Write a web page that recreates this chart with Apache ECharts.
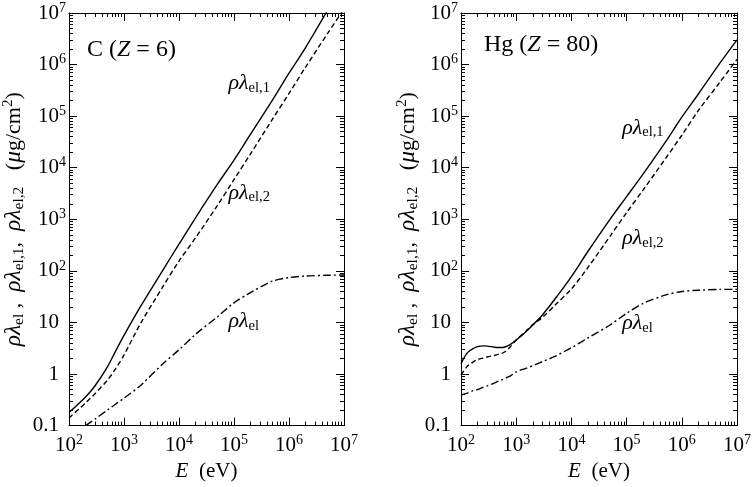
<!DOCTYPE html>
<html>
<head>
<meta charset="utf-8">
<script src="https://cdn.jsdelivr.net/npm/echarts@6.0.0/dist/echarts.min.js"></script>
<style>
  html, body { margin: 0; padding: 0; background: #fff; }
  #chart { width: 754px; height: 487px; }
</style>
</head>
<body>
<div id="chart"></div>
<script>
// ---- data (E in eV, rho*lambda in ug/cm^2) ----
// carbon panel
var energyC = [100, 200, 300, 500, 700, 1e3, 2e3, 5e3, 1e4, 2e4, 5e4, 1e5, 2e5, 5e5, 1e6, 2e6, 5e6, 1e7];
var lamC1  = [0.18, 0.36, 0.60, 1.38, 2.75, 5.6, 20.4, 100, 330, 1070, 4790, 1.41e4, 4.47e4, 2.04e5, 6.8e5, 2.14e6, 1.12e7, null];
var lamC2  = [0.141, 0.275, 0.42, 0.76, 1.26, 2.34, 9.55, 47.9, 155, 437, 1860, 5890, 1.86e4, 8.71e4, 2.75e5, 8.91e5, 3.98e6, 1.2e7];
var lamCel = [null, 0.1, 0.135, 0.20, 0.26, 0.34, 0.60, 1.55, 2.95, 5.89, 12.9, 24.0, 38.0, 63.1, 74.1, 79.4, 82.2, 83.2];

// mercury panel
var energyHg = [100, 130, 170, 200, 250, 300, 400, 500, 600, 700, 800, 1000, 1500, 2000, 3000, 5000,
                1e4, 2e4, 5e4, 1e5, 2e5, 5e5, 1e6, 2e6, 5e6, 1e7];
var lamHg1  = [1.58, 2.57, 3.16, 3.39, 3.51, 3.47, 3.31, 3.27, 3.31, 3.51, 3.80, 4.57, 6.61, 8.91, 14.1, 28.2,
               77.6, 240, 1000, 2754, 7586, 30900, 95500, 2.69e5, 1.10e6, 3.02e6];
var lamHg2  = [0.955, 1.41, 1.74, 1.91, 2.04, 2.14, 2.29, 2.45, 2.63, 2.95, 3.47, 4.57, 6.76, 9.12, 12.6, 21.4,
               44.7, 117, 468, 1349, 3715, 14790, 42660, 1.29e5, 4.68e5, 1.26e6];
var lamHgel = [0.389, 0.427, 0.479, 0.501, 0.550, 0.589, 0.668, 0.741, 0.80, 0.87, 0.93, 1.10, 1.29, 1.45, 1.74, 2.19,
               3.24, 5.01, 8.91, 15.1, 23.4, 33.9, 39.8, 42.2, 43.7, 43.7];

// axis decades (exponents of ten) and the minor multipliers
var xDecades = [2, 3, 4, 5, 6, 7];
var yDecades = [-1, 0, 1, 2, 3, 4, 5, 6, 7];
var minorSteps = [2, 3, 4, 5, 6, 7, 8, 9];
var yPlainLabels = { '-1': '0.1', '0': '1', '1': '10' };

var FONT = 'Liberation Serif';

function minorOf(decades) {
  var out = [];
  for (var i = 0; i < decades.length - 1; i++) {
    minorSteps.forEach(function (k) { out.push(decades[i] + Math.log10(k)); });
  }
  return out;
}
var xMinor = minorOf(xDecades);
var yMinor = minorOf(yDecades);

var rich = {
  r:   { fontFamily: FONT, fontSize: 21, color: '#000' },
  i:   { fontFamily: FONT, fontSize: 21, fontStyle: 'italic', color: '#000' },
  n:   { fontFamily: FONT, fontSize: 21, color: '#000', padding: [0, 7, 0, 0] },
  sup: { fontFamily: FONT, fontSize: 14, color: '#000', padding: [0, 0, 10, 0] },
  g:   { fontFamily: FONT, fontSize: 22, fontStyle: 'italic', color: '#000' },
  sub: { fontFamily: FONT, fontSize: 14.5, color: '#000', padding: [9, 0, 0, 0] }
};
// slightly larger set for the rotated y-axis name
var nameRich = {
  r:   { fontFamily: FONT, fontSize: 22, color: '#000' },
  g:   { fontFamily: FONT, fontSize: 23.5, fontStyle: 'italic', color: '#000' },
  sup: { fontFamily: FONT, fontSize: 15, color: '#000', padding: [0, 0, 11, 0] },
  sub: { fontFamily: FONT, fontSize: 15.5, color: '#000', padding: [10, 0, 0, 0] }
};
var titleRich = {
  r: { fontFamily: FONT, fontSize: 24, fontWeight: 'normal', color: '#000' },
  i: { fontFamily: FONT, fontSize: 24, fontWeight: 'normal', fontStyle: 'italic', color: '#000' }
};

function pairs(xs, ys) {
  var out = [];
  xs.forEach(function (e, i) {
    if (ys[i] != null) out.push([Math.log10(e), Math.log10(ys[i])]);
  });
  return out;
}

function xAxisSet(gi) {
  function ax(pos, ticks, len, main, labels) {
    return {
      type: 'value', gridIndex: gi, position: pos, min: 2, max: 7,
      axisLine: { show: main, onZero: false, lineStyle: { color: '#000', width: 1 } },
      axisTick: { show: true, inside: true, length: len, customValues: ticks,
                  lineStyle: { color: '#000', width: 1 } },
      axisLabel: labels ? {
        show: true, customValues: xDecades, margin: 8, rich: rich,
        formatter: function (v) { return '{r|10}{sup|' + Math.round(v) + '}'; }
      } : { show: false },
      splitLine: { show: false },
      name: labels ? '{i|E}{r|  (eV)}' : '',
      nameLocation: 'middle', nameGap: 35,
      nameTextStyle: { rich: rich }
    };
  }
  return [
    ax('bottom', xDecades, 8, true, true),
    ax('bottom', xMinor, 4, false, false),
    ax('top', xDecades, 8, true, false),
    ax('top', xMinor, 4, false, false)
  ];
}

var yName = '{g|ρλ}{sub|el}{r| ,  }{g|ρλ}{sub|el,1}{r|,  }{g|ρλ}{sub|el,2}{r|   (}{g|μ}{r|g/cm}{sup|2}{r|)}';

function yAxisSet(gi, gap) {
  function ax(pos, ticks, len, main, labels) {
    return {
      type: 'value', gridIndex: gi, position: pos, min: -1, max: 7,
      axisLine: { show: main, onZero: false, lineStyle: { color: '#000', width: 1 } },
      axisTick: { show: true, inside: true, length: len, customValues: ticks,
                  lineStyle: { color: '#000', width: 1 } },
      axisLabel: labels ? {
        show: true, customValues: yDecades, margin: 3, rich: rich,
        formatter: function (v) {
          var e = Math.round(v);
          if (yPlainLabels[e] !== undefined) return '{n|' + yPlainLabels[e] + '}';
          return '{r|10}{sup|' + e + '}';
        }
      } : { show: false },
      splitLine: { show: false },
      name: labels ? yName : '',
      nameLocation: 'middle', nameGap: gap, nameRotate: 90,
      nameTextStyle: { rich: nameRich }
    };
  }
  return [
    ax('left', yDecades, 8, true, true),
    ax('left', yMinor, 4, false, false),
    ax('right', yDecades, 8, true, false),
    ax('right', yMinor, 4, false, false)
  ];
}

var dashed = [5, 3];
var dashDot = [8, 3, 2, 3];

function curve(gi, xs, ys, dash, label, coord) {
  return {
    type: 'line', xAxisIndex: 4 * gi, yAxisIndex: 4 * gi,
    data: pairs(xs, ys),
    smooth: 0.3,
    showSymbol: false, symbol: 'none', clip: true,
    lineStyle: { color: '#000', width: 1.4, type: dash },
    markPoint: {
      symbol: 'circle', symbolSize: 0, silent: true,
      data: [{ coord: coord }],
      label: { show: true, position: 'right', distance: 0, formatter: label, rich: rich }
    }
  };
}

var chart = echarts.init(document.getElementById('chart'));
chart.setOption({
  animation: false,
  backgroundColor: '#fff',
  title: [
    { text: '{r|C (}{i|Z}{r| = 6)}', left: 87, top: 38, padding: 0,
      textStyle: { fontWeight: 'normal', rich: titleRich } },
    { text: '{r|Hg (}{i|Z}{r| = 80)}', left: 484, top: 33, padding: 0,
      textStyle: { fontWeight: 'normal', rich: titleRich } }
  ],
  grid: [
    { left: 65, top: 13, width: 279, height: 418 },
    { left: 461, top: 13, width: 279, height: 418 }
  ],
  xAxis: xAxisSet(0).concat(xAxisSet(1)),
  yAxis: yAxisSet(0, 42).concat(yAxisSet(1, 36)),
  series: [
    curve(0, energyC, lamC1, 'solid', '{g|ρλ}{sub|el,1}', [4.90, 5.63]),
    curve(0, energyC, lamC2, dashed, '{g|ρλ}{sub|el,2}', [4.90, 3.51]),
    curve(0, energyC, lamCel, dashDot, '{g|ρλ}{sub|el}', [4.90, 1.02]),
    curve(1, energyHg, lamHg1, 'solid', '{g|ρλ}{sub|el,1}', [4.92, 4.77]),
    curve(1, energyHg, lamHg2, dashed, '{g|ρλ}{sub|el,2}', [4.92, 2.63]),
    curve(1, energyHg, lamHgel, dashDot, '{g|ρλ}{sub|el}', [4.92, 0.98])
  ]
});
</script>
</body>
</html>
